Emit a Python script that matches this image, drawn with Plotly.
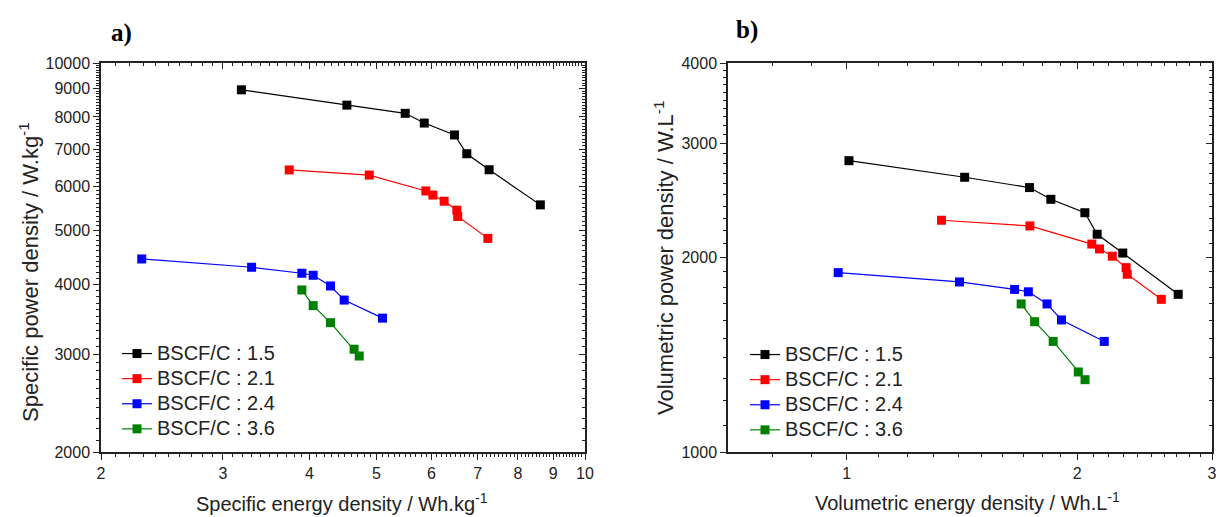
import numpy as np
import plotly.graph_objects as go

# ---------------- data ----------------
series_names = ["BSCF/C : 1.5", "BSCF/C : 2.1", "BSCF/C : 2.4", "BSCF/C : 3.6"]
series_colors = ["#000000", "#ff0000", "#0000ff", "#008000"]

# panel a) specific energy (Wh/kg) vs specific power (W/kg)
spec_energy_15 = [3.19, 4.53, 5.50, 5.86, 6.48, 6.75, 7.27, 8.62]
spec_power_15 = [8950, 8400, 8120, 7800, 7425, 6870, 6430, 5560]
spec_energy_21 = [3.74, 4.88, 5.89, 6.03, 6.26, 6.53, 6.55, 7.24]
spec_power_21 = [6425, 6290, 5890, 5790, 5645, 5440, 5300, 4840]
spec_energy_24 = [2.29, 3.30, 3.90, 4.05, 4.29, 4.49, 5.10]
spec_power_24 = [4445, 4295, 4190, 4155, 3975, 3750, 3480]
spec_energy_36 = [3.90, 4.05, 4.29, 4.64, 4.72]
spec_power_36 = [3910, 3665, 3415, 3060, 2975]

# panel b) volumetric energy (Wh/L) vs volumetric power (W/L)
vol_energy_15 = [1.007, 1.426, 1.733, 1.848, 2.047, 2.124, 2.294, 2.710]
vol_power_15 = [2824, 2662, 2566, 2461, 2346, 2173, 2032, 1754]
vol_energy_21 = [1.330, 1.735, 2.090, 2.139, 2.223, 2.317, 2.325, 2.576]
vol_power_21 = [2284, 2238, 2098, 2062, 2009, 1929, 1884, 1723]
vol_energy_24 = [0.975, 1.404, 1.657, 1.727, 1.827, 1.908, 2.170]
vol_power_24 = [1895, 1833, 1785, 1770, 1695, 1601, 1483]
vol_energy_36 = [1.690, 1.760, 1.861, 2.007, 2.048]
vol_power_36 = [1695, 1591, 1483, 1330, 1294]

# tick labels
a_x_ticks = [2, 3, 4, 5, 6, 7, 8, 9, 10]
a_y_ticks = [2000, 3000, 4000, 5000, 6000, 7000, 8000, 9000, 10000]
b_x_ticks = [1, 2, 3]
b_y_ticks = [1000, 2000, 3000, 4000]

# ---------------- figure ----------------
FONT = "Liberation Sans, Arial, sans-serif"
W, H = 1218, 517


def px_x(p):
    return p / W


def px_y(p):
    return 1 - p / H


a_xdom = [px_x(101), px_x(585)]
b_xdom = [px_x(728), px_x(1212)]
ydom = [px_y(452), px_y(63)]


def minor_vals(lo, hi, step, majors):
    vals = np.round(np.arange(lo, hi + step / 2, step), 6)
    return [float(v) for v in vals if not np.any(np.isclose(v, majors))]


a_x_minor = minor_vals(2, 10, 0.1, a_x_ticks)
a_y_minor = minor_vals(2000, 10000, 100, a_y_ticks)
b_x_minor = minor_vals(0.7, 3, 0.1, b_x_ticks + [0.7])
b_y_minor = minor_vals(1000, 4000, 100, b_y_ticks)

fig = go.Figure()

a_data = [(spec_energy_15, spec_power_15), (spec_energy_21, spec_power_21),
          (spec_energy_24, spec_power_24), (spec_energy_36, spec_power_36)]
b_data = [(vol_energy_15, vol_power_15), (vol_energy_21, vol_power_21),
          (vol_energy_24, vol_power_24), (vol_energy_36, vol_power_36)]


def legend_label(name):
    return "<span style='font-size:20px'>" + name + "</span>"


for (xs, ys), name, col in zip(a_data, series_names, series_colors):
    fig.add_trace(go.Scatter(
        x=xs, y=ys, name=legend_label(name), mode="lines+markers",
        line=dict(color=col, width=1.2),
        marker=dict(symbol="square", size=9, color=col, line=dict(width=0)),
        xaxis="x", yaxis="y", legend="legend"))

for (xs, ys), name, col in zip(b_data, series_names, series_colors):
    fig.add_trace(go.Scatter(
        x=xs, y=ys, name=legend_label(name), mode="lines+markers",
        line=dict(color=col, width=1.2),
        marker=dict(symbol="square", size=9, color=col, line=dict(width=0)),
        xaxis="x2", yaxis="y2", legend="legend2"))

# dummy traces so that mirrored (top/right) axes are drawn
for xa, ya in [("x3", "y3"), ("x4", "y4")]:
    fig.add_trace(go.Scatter(x=[], y=[], xaxis=xa, yaxis=ya, showlegend=False,
                             hoverinfo="skip"))


def axis(rng, ticks, minor, domain, anchor, side, direction, labels, overlaying=None):
    d = dict(
        type="log", range=rng, autorange=False, domain=domain, anchor=anchor,
        side=side, tickmode="array", tickvals=ticks,
        ticktext=[str(t) for t in ticks], showticklabels=labels,
        ticks=direction, ticklen=6, tickwidth=1.2, tickcolor="#222",
        minor=dict(tickmode="array", tickvals=minor, ticks=direction,
                   ticklen=3, tickwidth=1, tickcolor="#222", showgrid=False),
        showline=True, linecolor="#222", linewidth=1.5, showgrid=False,
        zeroline=False, tickfont=dict(family=FONT, size=16, color="#222"),
        automargin=False, fixedrange=True)
    if overlaying:
        d["overlaying"] = overlaying
    return d


a_xr = [np.log10(2), 1]
a_yr = [np.log10(2000), 4]
b_xr = [np.log10(0.7), np.log10(3)]
b_yr = [3, np.log10(4000)]

fig.update_layout(
    width=W, height=H,
    margin=dict(l=0, r=0, t=0, b=0),
    paper_bgcolor="white", plot_bgcolor="white",
    font=dict(family=FONT, color="#222"),
    xaxis=axis(a_xr, a_x_ticks, a_x_minor, a_xdom, "y", "bottom", "outside", True),
    yaxis=axis(a_yr, a_y_ticks, a_y_minor, ydom, "x", "left", "outside", True),
    xaxis2=axis(b_xr, b_x_ticks, b_x_minor, b_xdom, "y2", "bottom", "outside", True),
    yaxis2=axis(b_yr, b_y_ticks, b_y_minor, ydom, "x2", "left", "outside", True),
    xaxis3=axis(a_xr, a_x_ticks, a_x_minor, a_xdom, "y", "top", "inside", False, "x"),
    yaxis3=axis(a_yr, a_y_ticks, a_y_minor, ydom, "x", "right", "inside", False, "y"),
    xaxis4=axis(b_xr, b_x_ticks, b_x_minor, b_xdom, "y2", "top", "inside", False, "x2"),
    yaxis4=axis(b_yr, b_y_ticks, b_y_minor, ydom, "x2", "right", "inside", False, "y2"),
    legend=dict(x=px_x(117), y=px_y(336), xanchor="left", yanchor="top",
                bgcolor="rgba(0,0,0,0)", font=dict(family=FONT, size=17, color="#222"),
                itemwidth=30, tracegroupgap=0),
    legend2=dict(x=px_x(745), y=px_y(337), xanchor="left", yanchor="top",
                 bgcolor="rgba(0,0,0,0)", font=dict(family=FONT, size=17, color="#222"),
                 itemwidth=30, tracegroupgap=0),
    showlegend=True,
)

title_font = dict(family=FONT, size=20, color="#222")
ytitle_font = dict(family=FONT, size=22, color="#222")
panel_font = dict(family="Liberation Serif, Times New Roman, serif", size=25, color="#000")
annotations = [
    dict(text="<b>a)</b>", x=px_x(121), y=px_y(33), font=panel_font),
    dict(text="<b>b)</b>", x=px_x(747), y=px_y(30), font=panel_font),
    dict(text="Specific energy density / Wh.kg<sup>-1</sup>", x=px_x(342), y=px_y(502),
         font=title_font),
    dict(text="Specific power density / W.kg<sup>-1</sup>", x=px_x(29), y=px_y(272),
         font=ytitle_font, textangle=-90),
    dict(text="Volumetric energy density / Wh.L<sup>-1</sup>", x=px_x(967), y=px_y(501),
         font=title_font),
    dict(text="Volumetric power density / W.L<sup>-1</sup>", x=px_x(664), y=px_y(258),
         font=ytitle_font, textangle=-90),
]
for a in annotations:
    a.update(xref="paper", yref="paper", xanchor="center", yanchor="middle",
             showarrow=False)
fig.update_layout(annotations=annotations)

fig.write_html("out.html")
